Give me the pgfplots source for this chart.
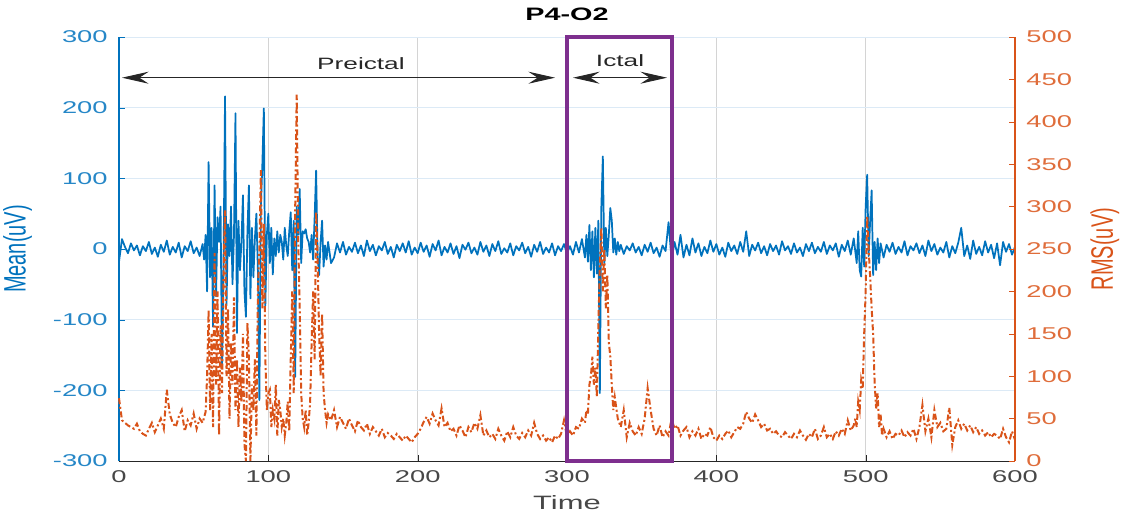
\documentclass[border=0pt]{standalone}
\usepackage{fontspec}
\setmainfont{Liberation Sans}[FakeStretch=1.6]
\newfontfamily\plainsans{Liberation Sans}
\usepackage{pgfplots}
\pgfplotsset{compat=1.18}
\usetikzlibrary{arrows.meta}
\definecolor{mblue}{HTML}{0072BD}
\definecolor{morange}{HTML}{D95319}
\definecolor{mpurple}{HTML}{7E2F8E}
\definecolor{gridblue}{HTML}{DCEAF6}
\definecolor{gridgray}{HTML}{D4D4D4}
\definecolor{axgray}{HTML}{262626}
\begin{document}
\begin{tikzpicture}
\begin{axis}[
  scale only axis, width=672pt, height=318pt,
  xmin=0, xmax=600, ymin=-300, ymax=300,
  axis y line*=left, axis x line*=bottom,
  x axis line style={-, color=axgray, line width=0.6pt},
  y axis line style={-, color=mblue, line width=0.9pt},
  xtick={0,100,...,600}, ytick={-300,-200,...,300},
  tick align=inside,
  x tick style={color=axgray}, y tick style={color=mblue},
  xmajorgrids, ymajorgrids,
  x grid style={color=gridgray, line width=0.6pt},
  y grid style={color=gridblue, line width=0.6pt},
  /pgf/number format/assume math mode=true,
  tick label style={font=\fontsize{12.8}{15}\selectfont},
  xticklabel style={color=axgray!85, yshift=-4pt},
  yticklabel style={color=mblue!85, xshift=-5pt},
  xlabel={Time},
  xlabel style={at={(rel axis cs:0.5,-0.099)}, anchor=center, font=\fontsize{14.5}{16}\selectfont, color=axgray!85},
  ylabel={\scalebox{1}[1.55]{\plainsans Mean(uV)}},
  ylabel style={at={(rel axis cs:-0.1131,0.5)}, anchor=center, font=\fontsize{15}{17}\selectfont, color=mblue},
  title={P4-O2},
  title style={at={(rel axis cs:0.5,1.0542)}, anchor=center, yshift=-6pt, font=\bfseries\fontsize{13.5}{16}\selectfont, color=black},
]
\coordinate (ll) at (rel axis cs:0,0);
\coordinate (ur) at (rel axis cs:1,1);
\addplot[color=mblue, line width=1.3pt, line join=round, mark=none] coordinates {
(0,-18) (2,14) (4,3) (6,-6) (8,8) (10,-2) (12,5) (14,-9) (16,4) (18,-3) (20,10) (22,-7) (24,2) (26,-11) (28,6) (30,-4) (32,12) (34,-8) (36,3) (38,-5) (40,9) (42,-12) (44,4) (46,-3) (48,11) (50,-6) (52,2) (54,-10) (56,7)
(57,-15) (58,20) (59,-60) (60,123) (61,-40) (62,30) (63,-110) (64,90) (65,-67) (66,45) (67,10) (68,60) (69,-169) (70,-20) (71,216) (72,-80) (73,35) (74,-10) (75,60) (76,-50) (77,20) (78,192) (79,-119) (80,40) (81,-30) (82,10) (83,76) (84,-60) (85,-96) (86,25) (87,90) (88,-70) (89,30) (90,-40) (91,15) (92,50) (93,-30) (94,-214) (95,60) (96,120) (97,199) (98,-80) (99,20) (100,50)
(101,-20) (102,30) (103,-36) (104,15) (105,-10) (106,25) (107,-5) (108,20) (109,10) (110,-15) (111,30) (112,5) (113,-10) (114,25) (115,52) (116,-30) (117,40) (118,-181) (119,60) (120,20) (121,85) (122,-20) (123,25) (124,22) (125,28) (126,15) (127,10) (128,-5) (129,20) (130,-15) (131,45) (132,111) (133,-10) (134,-37) (135,10) (136,40) (137,-25) (138,5) (139,-15) (140,10)
(142,-20) (144,-12) (146,8) (148,-5) (150,10) (152,-8) (154,3) (156,-4) (158,9) (160,-6) (162,5) (164,-10) (166,12) (168,-3) (170,6) (172,-9) (174,4) (176,-2) (178,10) (180,-7) (182,3) (184,-12) (186,6) (188,-3) (190,8) (192,-5) (194,11) (196,-8) (198,2) (200,-6)
(202,9) (204,-4) (206,5) (208,-11) (210,7) (212,-2) (214,12) (216,-9) (218,3) (220,-5) (222,8) (224,-7) (226,4) (228,-13) (230,6) (232,-1) (234,9) (236,-6) (238,2) (240,-8) (242,10) (244,-4) (246,5) (248,-10) (250,7) (252,-3) (254,11) (256,-7) (258,1) (260,-5)
(262,8) (264,-9) (266,4) (268,-2) (270,9) (272,-6) (274,3) (276,-11) (278,6) (280,-4) (282,10) (284,-7) (286,2) (288,-5) (290,8) (292,-9) (294,4) (296,-3) (298,7) (300,-6) (302,4) (304,-8) (306,10) (308,-5) (310,14) (312,-12)
(313,20) (314,-18) (315,34) (316,-30) (317,25) (318,-40) (319,30) (320,-35) (321,40) (322,-204) (323,60) (324,131) (325,-20) (326,30) (327,-10) (328,20) (329,58) (330,40) (331,-5) (332,15) (333,-8) (334,10) (335,-3)
(336,6) (338,-7) (340,4) (342,-2) (344,8) (346,-5) (348,3) (350,-9) (352,6) (354,-4) (356,9) (358,-6) (360,2) (362,-11) (364,5) (366,-3) (368,38) (370,-15) (372,10) (374,-8) (376,20) (378,-12) (380,6) (382,-9) (384,15) (386,-5) (388,8) (390,-10) (392,3) (394,-6) (396,12) (398,-4) (400,7)
(402,-8) (404,2) (406,-11) (408,9) (410,-3) (412,5) (414,-7) (416,10) (418,-4) (420,25) (422,-10) (424,6) (426,-2) (428,9) (430,-6) (432,4) (434,-9) (436,7) (438,-3) (440,5) (442,-8) (444,11) (446,-2) (448,4) (450,-7) (452,8) (454,-5) (456,2) (458,-10) (460,7)
(462,-3) (464,9) (466,-6) (468,3) (470,-4) (472,10) (474,-7) (476,5) (478,-2) (480,8) (482,-11) (484,6) (486,-3) (488,12) (490,-8) (492,15) (494,-20)
(495,25) (496,-30) (497,-39) (498,30) (499,-25) (500,60) (501,105) (502,-10) (503,40) (504,83) (505,-37) (506,10) (507,-30) (508,15) (509,-20) (510,8)
(512,-12) (514,6) (516,-4) (518,9) (520,-7) (522,3) (524,-5) (526,11) (528,-9) (530,4) (532,-2) (534,8) (536,-6) (538,5) (540,-10) (542,12) (544,-3) (546,7) (548,-8) (550,2) (552,-5) (554,10) (556,-12) (558,4) (560,-6)
(562,9) (564,30) (566,-10) (568,5) (570,-14) (572,12) (574,-7) (576,3) (578,-9) (580,11) (582,-5) (584,6) (586,-13) (588,8) (590,-23) (592,10) (594,-4) (596,7) (598,-8) (600,3)
};
\end{axis}
\begin{axis}[
  scale only axis, width=672pt, height=318pt,
  xmin=0, xmax=600, ymin=0, ymax=500,
  axis y line*=right, axis x line=none,
  y axis line style={-, color=morange, line width=0.9pt},
  ytick={0,50,...,500},
  tick align=inside,
  y tick style={color=morange},
  /pgf/number format/assume math mode=true,
  tick label style={font=\fontsize{12.8}{15}\selectfont},
  yticklabel style={color=morange!85, xshift=5pt},
  ylabel={\scalebox{1}[1.55]{\plainsans RMS(uV)}},
  ylabel style={at={(rel axis cs:1.1004,0.5)}, anchor=center, rotate=0, font=\fontsize{15}{17}\selectfont, color=morange},
  clip=false,
]
\addplot[color=morange, line width=1.5pt, dash pattern=on 4.5pt off 2pt on 1.5pt off 2pt, mark=none] coordinates {
(0,74) (2,48) (4,45) (6,42) (8,40) (10,38) (12,44) (14,35) (16,32) (18,30) (20,38) (22,45) (24,34) (26,42) (28,50) (30,38) (32,84) (34,55) (36,45) (38,40) (40,52) (42,60) (44,35) (46,48) (48,42) (50,56) (52,38) (54,50) (56,45) (58,58)
(59,100) (60,178) (61,60) (62,150) (63,40) (64,245) (65,90) (66,200) (67,30) (68,160) (69,80) (70,220) (71,296) (72,100) (73,180) (74,50) (75,140) (76,90) (77,193) (78,60) (79,120) (80,40) (81,110) (82,70) (83,150) (84,20) (85,0) (86,163) (87,120) (88,0) (89,90) (90,60) (91,120) (92,30) (93,200) (94,250) (95,343) (96,180) (97,280) (98,120) (99,60) (100,80)
(101,84) (102,40) (103,60) (104,50) (105,90) (106,30) (107,72) (108,60) (109,40) (110,50) (111,30) (112,45) (113,70) (114,35) (115,120) (116,200) (117,80) (118,300) (119,432) (120,260) (121,182) (122,80) (123,50) (124,40) (125,60) (126,30) (127,45) (128,70) (129,140) (130,200) (131,120) (132,294) (133,240) (134,150) (135,100) (136,174) (137,80) (138,60) (139,45) (140,55)
(142,48) (144,60) (146,40) (148,52) (150,45) (152,38) (154,50) (156,42) (158,35) (160,48) (162,40) (164,36) (166,44) (168,32) (170,40) (172,35) (174,30) (176,38) (178,28) (180,33) (182,30) (184,26) (186,32) (188,28) (190,24) (192,30) (194,26) (196,22) (198,28) (200,32)
(202,38) (204,46) (206,52) (208,44) (210,56) (212,48) (214,42) (216,62) (218,40) (220,45) (222,35) (224,38) (226,30) (228,42) (230,36) (232,28) (234,40) (236,34) (238,45) (240,38) (242,54) (244,30) (246,36) (248,28) (250,32) (252,26) (254,38) (256,30) (258,24) (260,35)
(262,28) (264,40) (266,30) (268,26) (270,33) (272,28) (274,36) (276,30) (278,45) (280,32) (282,26) (284,30) (286,24) (288,28) (290,22) (292,30) (294,26) (296,32) (298,48) (300,28) (302,35) (304,30) (306,40) (308,38) (310,50) (312,45)
(313,60) (314,55) (315,90) (316,100) (317,123) (318,90) (319,110) (320,75) (321,160) (322,230) (323,275) (324,200) (325,250) (326,180) (327,220) (328,140) (329,123) (330,90) (331,60) (332,75)
(334,50) (336,40) (338,60) (340,28) (342,45) (344,35) (346,30) (348,40) (350,32) (352,50) (354,86) (356,60) (358,38) (360,30) (362,42) (364,28) (366,35) (368,30) (370,50) (372,38) (374,42) (376,30) (378,36) (380,40) (382,28) (384,35) (386,30) (388,38) (390,26) (392,32) (394,30) (396,40) (398,28) (400,24)
(402,30) (404,26) (406,32) (408,36) (410,28) (412,34) (414,40) (416,38) (418,44) (420,58) (422,50) (424,45) (426,55) (428,48) (430,40) (432,44) (434,36) (436,38) (438,32) (440,35) (442,30) (444,28) (446,34) (448,30) (450,26) (452,32) (454,28) (456,36) (458,30) (460,25)
(462,32) (464,28) (466,38) (468,26) (470,30) (472,40) (474,28) (476,32) (478,26) (480,35) (482,30) (484,38) (486,32) (488,48) (490,36) (492,42)
(493,50) (494,40) (495,70) (496,60) (497,95) (498,85) (499,150) (500,200) (501,289) (502,250) (503,217) (504,180) (505,150) (506,92) (507,62) (508,80) (509,40) (510,55) (511,30)
(512,38) (514,28) (516,35) (518,26) (520,32) (522,30) (524,36) (526,28) (528,34) (530,30) (532,38) (534,26) (536,40) (538,66) (540,35) (542,50) (544,28) (546,60) (548,40) (550,45) (552,35) (554,38) (556,63) (558,19) (560,40)
(562,48) (564,38) (566,44) (568,36) (570,42) (572,34) (574,40) (576,32) (578,36) (580,30) (582,34) (584,28) (586,32) (588,30) (590,26) (592,38) (594,28) (596,22) (598,35) (600,25)
};
\draw[color=mpurple, line width=3pt] (axis cs:300,0) rectangle (axis cs:370,500);
\draw[black!85, line width=0.7pt, {Stealth[length=20pt,width=9pt,inset=7pt]}-{Stealth[length=20pt,width=9pt,inset=7pt]}] (axis cs:2,452) -- (axis cs:292,452);
\draw[black!85, line width=0.7pt, {Stealth[length=20pt,width=9pt,inset=7pt]}-{Stealth[length=20pt,width=9pt,inset=7pt]}] (axis cs:304,452) -- (axis cs:367,452);
\node[font=\fontsize{12.3}{14}\selectfont, text=black!85] at (axis cs:162,469) {Preictal};
\node[font=\fontsize{12.3}{14}\selectfont, text=black!85] at (axis cs:335.5,472) {Ictal};
\end{axis}
\pgfresetboundingbox
\path[use as bounding box] ([xshift=-89.25pt,yshift=-39pt]ll) rectangle ([xshift=81pt,yshift=27.75pt]ur);
\end{tikzpicture}
\end{document}
